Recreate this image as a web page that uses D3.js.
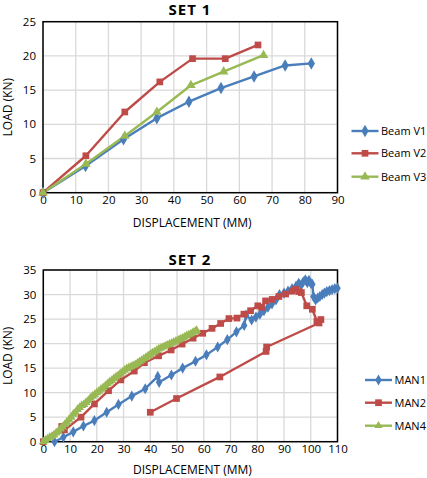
<!DOCTYPE html>
<html><head><meta charset="utf-8">
<script src="https://cdn.jsdelivr.net/npm/d3@7"></script>
<style>
html,body{margin:0;padding:0;background:#fff;}
svg text{font-family:"Open Sans","Noto Sans",sans-serif;fill:#000;}
</style></head>
<body><svg id="c" width="427" height="478"></svg>
<script>
// ---------- SET 1 data ----------
const set1Names = ["Beam V1","Beam V2","Beam V3"];
const beamV1 = [[0,0],[13,3.9],[24.6,7.8],[34.8,10.9],[44.6,13.3],[54.4,15.3],[64.5,17.0],[74,18.6],[82,18.9]];
const beamV2 = [[0,0],[13.1,5.4],[25,11.8],[35.7,16.2],[45.7,19.6],[55.7,19.6],[65.7,21.6]];
const beamV3 = [[0,0],[13.1,4.2],[25,8.3],[34.8,11.8],[45.2,15.7],[55.2,17.7],[67.4,20.1]];
const set1XTicks = [0,10,20,30,40,50,60,70,80,90];
const set1YTicks = [0,5,10,15,20,25];

// ---------- SET 2 data ----------
const set2Names = ["MAN1","MAN2","MAN4"];
const man1 = [[4.2,0],[7.5,0.9],[11.2,2.0],[15,3.2],[19.1,4.3],[23.7,6.0],[28.1,7.6],[33.1,9.3],[38.1,10.8],[42.8,13.3],[43.3,12.1],[47.9,13.6],[52.1,15.0],[56.9,16.4],[61,17.7],[65.2,19.3],[68.8,20.8],[72.2,22.4],[75.1,23.7],[75.8,25.8],[77.9,24.8],[79.5,25.4],[81,26.0],[82.5,26.7],[84,27.4],[85.5,28.1],[87,28.9],[88.3,30.0],[90,30.3],[91.5,30.7],[93,31.2],[94.5,31.7],[95.5,32.3],[96.4,31.9],[97.2,32.6],[98,33.0],[98.7,32.4],[99.3,32.9],[100,32.3],[100.6,32.1],[101,29.6],[101.8,28.9],[102.6,29.3],[103.4,29.6],[104.3,30.0],[105.1,30.3],[106,30.6],[107,30.8],[108,31.0],[109,31.2],[110,31.3]];
const man2 = [[0,0],[6.9,3.1],[7.9,2.4],[14.1,5.0],[19.1,7.7],[24.4,10.4],[29,12.6],[34,14.4],[37.8,16.1],[43.1,17.5],[47.8,18.7],[51.9,19.9],[56,21.1],[59.6,22.1],[63.1,23.1],[66.3,24.1],[69.4,25.1],[72.4,25.2],[75,26.0],[77.5,26.7],[80.2,27.7],[81.6,27.4],[83.1,28.7],[85.6,29.0],[88.1,29.6],[90.6,30.1],[93.1,30.7],[94.4,31.1],[95.6,30.6],[96.5,30.4],[98.5,27.7],[100.6,27.0],[102.3,24.5],[103.8,24.9],[103.1,24.2],[83.5,19.3],[83.3,18.4],[66,13.2],[49.8,8.8],[40,6.0]];
const man4 = [[0,0],[0.8,0.3],[1.6,0.6],[2.4,0.9],[3.2,1.1],[4.0,1.4],[4.8,1.8],[5.6,2.1],[6.4,2.6],[7.2,3.0],[8.0,3.5],[8.8,4.0],[9.6,4.5],[10.4,5.0],[11.2,5.6],[12.0,6.0],[12.8,6.6],[13.6,7.0],[14.4,7.4],[15.2,7.6],[16.0,8.0],[16.8,8.4],[17.6,8.9],[18.4,9.3],[19.2,9.6],[20.0,10.0],[20.8,10.3],[21.6,10.7],[22.4,11.0],[23.2,11.4],[24.0,11.8],[24.8,12.2],[25.6,12.5],[26.4,12.9],[27.2,13.2],[28.0,13.5],[28.8,13.9],[29.6,14.2],[30.4,14.6],[31.2,14.9],[32.0,15.1],[32.8,15.3],[33.6,15.5],[34.4,15.7],[35.2,16.0],[36.0,16.3],[36.8,16.6],[37.6,16.9],[38.4,17.2],[39.2,17.5],[40.0,17.8],[40.8,18.1],[41.6,18.3],[42.4,18.6],[43.2,18.9],[44.0,19.1],[44.8,19.3],[45.6,19.5],[46.4,19.7],[47.2,19.9],[48.0,20.1],[48.8,20.3],[49.6,20.5],[50.4,20.7],[51.2,20.9],[52.0,21.1],[52.8,21.3],[53.6,21.6],[54.4,21.8],[55.2,22.0],[56.0,22.3],[56.8,22.5],[57.3,22.7]];
const set2XTicks = [0,10,20,30,40,50,60,70,80,90,100,110];
const set2YTicks = [0,5,10,15,20,25,30,35];

const colors = ["#4A7EBB","#BE4B48","#98B954"];
const shapes = [d3.symbolDiamond, d3.symbolSquare, d3.symbolTriangle];

const svg = d3.select("#c");

function drawChart(o){
  const x = d3.scaleLinear().domain(o.xDomain).range([o.left,o.right]);
  const y = d3.scaleLinear().domain(o.yDomain).range([o.bottom,o.top]);
  const g = svg.append("g");
  g.selectAll(".vg").data(o.xTicks).join("line")
    .attr("x1",d=>x(d)).attr("x2",d=>x(d)).attr("y1",o.top).attr("y2",o.bottom)
    .attr("stroke","#d9d9d9").attr("stroke-width",1.3);
  g.selectAll(".hg").data(o.yTicks).join("line")
    .attr("x1",o.left).attr("x2",o.right).attr("y1",d=>y(d)).attr("y2",d=>y(d))
    .attr("stroke","#d9d9d9").attr("stroke-width",1.3);
  g.append("rect").attr("x",o.left).attr("y",o.top).attr("width",o.right-o.left).attr("height",o.bottom-o.top)
    .attr("fill","none").attr("stroke","#000").attr("stroke-width",1.5);
  const xa = g.append("g").attr("transform",`translate(0,${o.bottom})`)
    .call(d3.axisBottom(x).tickValues(o.xTicks).tickSize(0).tickPadding(3).tickFormat(d3.format("d")));
  const ya = g.append("g").attr("transform",`translate(${o.left},0)`)
    .call(d3.axisLeft(y).tickValues(o.yTicks).tickSize(0).tickPadding(7).tickFormat(d3.format("d")));
  [xa,ya].forEach(a=>{a.select(".domain").remove();
    a.selectAll("text").attr("font-family","'Open Sans',sans-serif").attr("font-size",11.5).attr("fill","#000");});
  o.series.forEach((s,i)=>{
    const line = d3.line().x(d=>x(d[0])).y(d=>y(d[1]));
    g.append("path").datum(s).attr("d",line).attr("fill","none")
      .attr("stroke",colors[i]).attr("stroke-width",2.4).attr("stroke-linejoin","round");
  });
  o.series.forEach((s,i)=>{
    g.selectAll(null).data(s).join("path")
      .attr("transform",d=>`translate(${x(d[0])},${y(d[1])})`)
      .attr("d",d3.symbol().type(shapes[i]).size(o.msize[i]))
      .attr("fill",colors[i]);
  });
  g.append("text").attr("x",o.titleX).attr("y",o.titleY).attr("text-anchor","middle")
    .attr("font-size",15).attr("font-weight","bold").attr("letter-spacing",1).text(o.title);
  g.append("text").attr("x",(o.left+o.right)/2+2).attr("y",o.xLabelY).attr("text-anchor","middle")
    .attr("font-size",12).text("DISPLACEMENT (MM)");
  g.append("text").attr("transform",`translate(12,${(o.top+o.bottom)/2}) rotate(-90)`).attr("text-anchor","middle")
    .attr("font-size",12).text("LOAD (KN)");
  o.names.forEach((n,i)=>{
    const ly = o.legY[i];
    g.append("line").attr("x1",o.legX).attr("x2",o.legX+27).attr("y1",ly).attr("y2",ly)
      .attr("stroke",colors[i]).attr("stroke-width",2.4);
    g.append("path").attr("transform",`translate(${o.legX+13.5},${ly})`)
      .attr("d",d3.symbol().type(shapes[i]).size(o.msizeLeg[i])).attr("fill",colors[i]);
    g.append("text").attr("x",o.legX+29.5).attr("y",ly+4).attr("font-size",11).text(n);
  });
}

drawChart({xDomain:[0,90],yDomain:[0,25],left:43,right:337.5,top:21.7,bottom:192.7,
  xTicks:set1XTicks,yTicks:set1YTicks,series:[beamV1,beamV2,beamV3],names:set1Names,
  msize:[45,45,40],msizeLeg:[45,45,40],title:"SET 1",titleX:190,titleY:15,xLabelY:227,
  legX:351.5,legY:[131,153.3,176.7]});

drawChart({xDomain:[0,110],yDomain:[0,35],left:43.3,right:337.5,top:270,bottom:441.7,
  xTicks:set2XTicks,yTicks:set2YTicks,series:[man1,man2,man4],names:set2Names,
  msize:[36,45,34],msizeLeg:[36,45,30],title:"SET 2",titleX:190,titleY:265,xLabelY:474,
  legX:365,legY:[380,402.7,425.7]});
</script></body></html>
